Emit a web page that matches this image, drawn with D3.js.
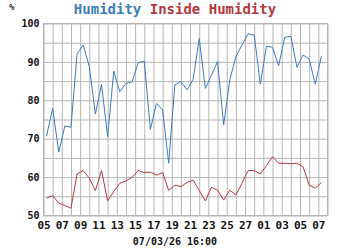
<!DOCTYPE html>
<html>
<head>
<meta charset="utf-8">
<script src="https://cdn.jsdelivr.net/npm/d3@7.9.0/dist/d3.min.js"></script>
<style>
  body { margin: 0; background: #fff; }
  text { font-family: "DejaVu Sans Mono", monospace; font-weight: bold; }
</style>
</head>
<body>
<svg id="chart" width="350" height="250"></svg>
<script>
// readings every 16 hours starting 2007-02-05 08:00
const start = new Date(2007, 1, 5, 8);
const stepHours = 16;
const humidity = [70.7, 77.9, 66.5, 73.3, 73.0, 92.1, 94.4, 88.8, 76.4, 84.2,
    70.5, 87.6, 82.2, 84.4, 84.8, 89.8, 90.2, 72.4, 79.2, 77.5,
    63.6, 84.0, 84.9, 82.7, 85.5, 96.1, 83.1, 86.5, 90.1, 73.6,
    85.3, 91.4, 94.4, 97.3, 97.0, 84.2, 94.1, 93.8, 89.0, 96.4,
    96.7, 88.6, 91.8, 90.7, 84.2, 91.5];
const insideHumidity = [54.5, 55.2, 53.2, 52.6, 51.9, 60.8, 61.7, 59.7, 56.5, 61.7,
    53.8, 56.2, 58.4, 59.0, 59.9, 61.7, 61.2, 61.3, 60.5, 61.2,
    56.5, 57.9, 57.5, 58.6, 59.2, 56.5, 53.8, 57.3, 56.6, 54.0,
    56.6, 55.3, 58.4, 61.7, 61.7, 60.8, 63.0, 65.3, 63.6, 63.6,
    63.5, 63.6, 62.7, 57.9, 57.1, 58.6];
const yTicks = [50, 60, 70, 80, 90, 100];
const seriesNames = ['Humidity', 'Inside Humidity'];
const colors = ['#3a7dbd', '#b5373c'];
const xLabel = '07/03/26 16:00';

const svg = d3.select('#chart');
const area = { left: 43.5, right: 327.5, top: 23.5, bottom: 215.5 };

const xScale = d3.scaleTime()
    .domain([new Date(2007, 1, 5), new Date(2007, 2, 8)])
    .range([area.left, area.right]);
const yScale = d3.scaleLinear().domain([50, 100]).range([area.bottom, area.top]);

// vertical gridlines, one per day
svg.append('g')
    .attr('transform', `translate(0, ${area.bottom})`)
    .call(d3.axisBottom(xScale).ticks(d3.timeDay.every(1)).tickFormat('').tickSize(-(area.bottom - area.top)).tickSizeOuter(0))
    .call((g) => g.select('.domain').remove())
    .call((g) => g.selectAll('line').attr('stroke', '#b4b4b4'));

// horizontal gridlines every 5
svg.append('g')
    .attr('transform', `translate(${area.left}, 0)`)
    .call(d3.axisLeft(yScale).tickValues(d3.range(50, 101, 5)).tickFormat('').tickSize(-(area.right - area.left)).tickSizeOuter(0))
    .call((g) => g.select('.domain').remove())
    .call((g) => g.selectAll('line').attr('stroke', '#b4b4b4'));

svg.append('rect')
    .attr('x', area.left).attr('y', area.top)
    .attr('width', area.right - area.left).attr('height', area.bottom - area.top)
    .attr('fill', 'none').attr('stroke', '#b4b4b4');

// y labels
svg.append('g')
    .attr('transform', `translate(${area.left - 4}, 0)`)
    .call(d3.axisLeft(yScale).tickValues(yTicks).tickSize(0).tickPadding(0))
    .call((g) => g.select('.domain').remove())
    .call((g) => g.selectAll('text').attr('font-size', 10).attr('fill', '#111')
        .style('font-family', '"DejaVu Sans Mono", monospace').style('font-weight', 'bold'));

// x labels every 2 days
svg.append('g')
    .attr('transform', `translate(0, ${area.bottom + 4})`)
    .call(d3.axisBottom(xScale).ticks(d3.timeDay.every(2)).tickFormat(d3.timeFormat('%d')).tickSize(0).tickPadding(2))
    .call((g) => g.select('.domain').remove())
    .call((g) => g.selectAll('text').attr('font-size', 11).attr('fill', '#111')
        .style('font-family', '"DejaVu Sans Mono", monospace').style('font-weight', 'bold'));

svg.append('text')
    .attr('x', 175).attr('y', 245)
    .attr('text-anchor', 'middle')
    .attr('font-size', 10).attr('fill', '#111')
    .text(xLabel);

svg.append('text')
    .attr('x', 9).attr('y', 10)
    .attr('font-size', 9).attr('fill', '#111')
    .text('%');

const title = svg.append('text')
    .attr('x', 175).attr('y', 14)
    .attr('text-anchor', 'middle')
    .attr('font-size', 14);
title.append('tspan').attr('fill', colors[0]).text(seriesNames[0] + ' ');
title.append('tspan').attr('fill', colors[1]).text(seriesNames[1]);

const times = humidity.map((_, i) => d3.timeHour.offset(start, i * stepHours));
const line = d3.line()
    .x((d, i) => xScale(times[i]))
    .y((d) => yScale(d));

[humidity, insideHumidity].forEach((series, k) => {
    svg.append('path')
        .datum(series)
        .attr('fill', 'none')
        .attr('stroke', colors[k])
        .attr('stroke-width', 1)
        .attr('d', line);
});
</script>
</body>
</html>
